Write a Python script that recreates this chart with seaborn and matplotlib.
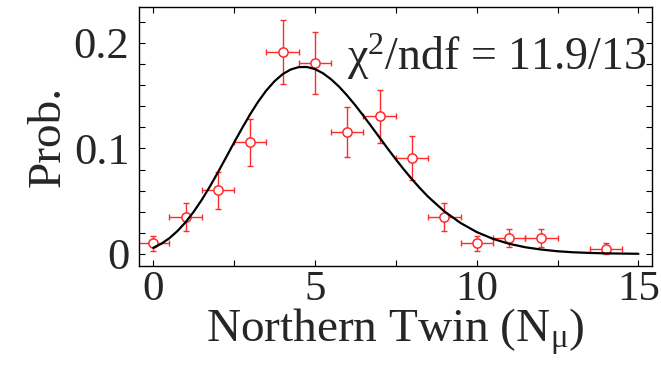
import numpy as np
import pandas as pd
import matplotlib
matplotlib.use("Agg")
import matplotlib.pyplot as plt
from matplotlib.ticker import MultipleLocator, FuncFormatter
import seaborn as sns

# Measured multiplicity distribution (Northern Twin)
n_mu = [0, 1, 2, 3, 4, 5, 6, 7, 8, 9, 10, 11, 12, 14]
prob = [0.0101, 0.0352, 0.0602, 0.1057, 0.1912, 0.1812, 0.1158,
        0.1305, 0.0910, 0.0352, 0.0101, 0.0152, 0.0152, 0.0050]
prob_err = [0.0070, 0.0131, 0.0172, 0.0225, 0.0303, 0.0296, 0.0237,
            0.0250, 0.0210, 0.0131, 0.0070, 0.0087, 0.0087, 0.0050]
bin_half_width = [0.5] * len(n_mu)

# Fitted curve samples (denser around the peak)
fit_x = [0.0, 0.25, 0.5, 0.75, 1.0, 1.25, 1.5, 1.75, 2.0, 2.25, 2.5, 2.75,
         3.0, 3.25, 3.5, 3.75, 4.0, 4.25, 4.5, 4.75, 5.0, 5.25, 5.5, 5.75,
         6.0, 6.25, 6.5, 6.75, 7.0, 7.25, 7.5, 7.75, 8.0, 8.25, 8.5,
         9.0, 9.5, 10.0, 10.5, 11.0, 11.5, 12.0, 12.5, 13.0, 13.5, 14.0,
         14.5, 15.0]
fit_y = [0.0059, 0.0097, 0.0150, 0.0218, 0.0301, 0.0400, 0.0513, 0.0639,
         0.0774, 0.0914, 0.1056, 0.1194, 0.1326, 0.1446, 0.1551, 0.1637,
         0.1704, 0.1748, 0.1771, 0.1772, 0.1752, 0.1712, 0.1655, 0.1584,
         0.1500, 0.1408, 0.1309, 0.1206, 0.1102, 0.0998, 0.0897, 0.0800,
         0.0708, 0.0622, 0.0542,
         0.0404, 0.0294, 0.0208, 0.0144, 0.0097, 0.0064, 0.0042, 0.0026,
         0.0016, 0.0010, 0.0006, 0.0004, 0.0002]

fit_label = r"$\chi^{2}$/ndf = 11.9/13"
x_label = r"Northern Twin (N$_{\mu}$)"
y_label = "Prob."

sns.set_style("ticks")
plt.rcParams["font.family"] = ["Liberation Serif", "DejaVu Serif"]
plt.rcParams["mathtext.fontset"] = "custom"
plt.rcParams["mathtext.rm"] = "Liberation Serif"
plt.rcParams["mathtext.it"] = "Liberation Serif:italic"
plt.rcParams["mathtext.default"] = "regular"

data = pd.DataFrame({"n": n_mu, "p": prob, "dp": prob_err, "dn": bin_half_width})
fit = pd.DataFrame({"x": fit_x, "y": fit_y})

fig = plt.figure(figsize=(6.61, 3.70), dpi=100)
ax = fig.add_axes([0.2103, 0.281, 0.7761, 0.700])

red = "#ff2a2a"
ax.errorbar(data["n"], data["p"], xerr=data["dn"], yerr=data["dp"],
            fmt="none", ecolor=red, elinewidth=1.0, capsize=2.2,
            capthick=1.0, zorder=2)
sns.scatterplot(data=data, x="n", y="p", ax=ax, marker="o", s=44,
                facecolor="white", edgecolor=red, linewidth=1.1, zorder=3)
sns.lineplot(data=fit, x="x", y="y", ax=ax, color="black", linewidth=1.6,
             zorder=4)

ax.set_xlim(-0.44, 15.42)
ax.set_ylim(-0.0114, 0.234)

ax.xaxis.set_major_locator(MultipleLocator(5))
ax.xaxis.set_minor_locator(MultipleLocator(2.5))
ax.yaxis.set_major_locator(MultipleLocator(0.1))
ax.yaxis.set_minor_locator(MultipleLocator(0.02))
ax.yaxis.set_major_formatter(FuncFormatter(lambda v, _: f"{v:g}"))

ax.tick_params(which="both", direction="in", top=True, right=True,
               length=4.5, width=0.8, color="black")
ax.tick_params(axis="x", which="major", labelsize=31, pad=3)
ax.tick_params(axis="y", which="major", labelsize=32, pad=7)
for s in ax.spines.values():
    s.set_linewidth(1.0)
    s.set_color("black")

ax.set_xlabel(x_label, fontsize=34)
ax.xaxis.set_label_coords(0.5, -0.158)
ax.set_ylabel(y_label, fontsize=34)
ax.yaxis.set_label_coords(-0.1345, 0.5)

ax.text(0.99, 0.757, fit_label, transform=ax.transAxes, ha="right",
        va="baseline", fontsize=33)

fig.savefig("out.png", dpi=100)
